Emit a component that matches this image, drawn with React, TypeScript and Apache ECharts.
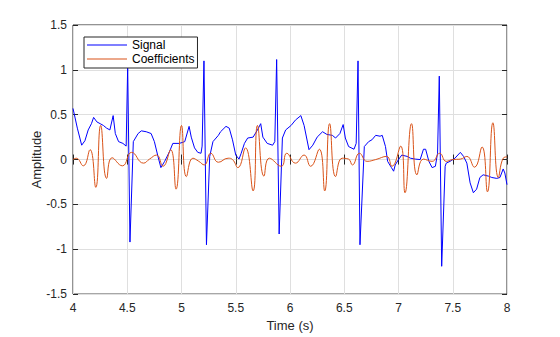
import React, { useEffect, useRef } from "react";
import * as echarts from "echarts";

const xTicks = [4, 4.5, 5, 5.5, 6, 6.5, 7, 7.5, 8];
const yTicks = [-1.5, -1, -0.5, 0, 0.5, 1, 1.5];

const signalTime = [
  4.0, 4.04, 4.08, 4.11, 4.14, 4.17, 4.19, 4.22, 4.25, 4.28, 4.31, 4.34, 4.37, 4.39, 4.42, 4.46, 4.49,
  4.504, 4.525, 4.556, 4.6, 4.63, 4.675, 4.72, 4.75, 4.78, 4.81, 4.845, 4.89, 4.92, 4.98, 5.03, 5.07,
  5.09, 5.12, 5.15, 5.18, 5.19, 5.207, 5.23, 5.26, 5.29, 5.34, 5.36, 5.41, 5.44, 5.47, 5.5, 5.53, 5.55,
  5.58, 5.61, 5.66, 5.7, 5.73, 5.75, 5.79, 5.84, 5.86, 5.877, 5.9, 5.93, 5.96, 6.01, 6.05, 6.1, 6.13,
  6.175, 6.21, 6.25, 6.3, 6.34, 6.39, 6.42, 6.46, 6.49, 6.51, 6.54, 6.59, 6.61, 6.627, 6.645, 6.685,
  6.725, 6.755, 6.79, 6.83, 6.85, 6.88, 6.9, 6.935, 6.955, 6.97, 7.0, 7.03, 7.08, 7.11, 7.155, 7.2,
  7.23, 7.25, 7.28, 7.31, 7.34, 7.36, 7.376, 7.398, 7.43, 7.44, 7.475, 7.52, 7.57, 7.6, 7.63, 7.66,
  7.69, 7.72, 7.75, 7.78, 7.83, 7.86, 7.905, 7.935, 7.965, 7.98, 8.0,
];
const signalValue = [
  0.57, 0.35, 0.16, 0.21, 0.33, 0.4, 0.47, 0.42, 0.4, 0.38, 0.35, 0.33, 0.49, 0.29, 0.2, 0.18, 0.15,
  1.04, -0.92, 0.2, 0.29, 0.32, 0.31, 0.29, 0.2, 0.05, -0.09, -0.02, 0.09, 0.18, 0.18, 0.2, 0.37,
  0.25, 0.13, 0.08, 0.07, 0.15, 1.1, -0.95, 0.035, 0.2, 0.27, 0.31, 0.37, 0.35, 0.22, 0.05, 0.005, 0.07,
  0.18, 0.24, 0.25, 0.33, 0.4, 0.25, 0.18, 0.16, 0.2, 1.115, -0.83, 0.24, 0.33, 0.38, 0.44, 0.49, 0.38,
  0.11, 0.16, 0.25, 0.31, 0.28, 0.27, 0.24, 0.29, 0.39, 0.24, 0.145, 0.115, 0.18, 1.1, -0.95, 0.145,
  0.2, 0.22, 0.27, 0.26, 0.27, 0.145, -0.02, -0.09, -0.13, -0.06, 0.0, 0.05, 0.035, 0.015, 0.005, 0.0,
  0.115, 0.115, -0.02, -0.09, -0.075, 0.07, 0.93, -1.19, -0.075, -0.04, -0.02, 0.015, 0.08, 0.035, -0.04, -0.26,
  -0.37, -0.33, -0.2, -0.17, -0.185, -0.2, -0.21, -0.2, -0.105, -0.15, -0.28,
];

const coefTime = [
  4.0, 4.03, 4.095, 4.157, 4.21, 4.255, 4.31, 4.36, 4.455, 4.54, 4.65, 4.705, 4.77, 4.83, 4.9, 4.95,
  5.0, 5.045, 5.105, 5.16, 5.21, 5.27, 5.34, 5.43, 5.47, 5.52, 5.59, 5.66, 5.7, 5.76, 5.81, 5.92, 5.97,
  6.05, 6.13, 6.19, 6.27, 6.32, 6.365, 6.42, 6.48, 6.54, 6.575, 6.64, 6.71, 6.79, 6.89, 6.94, 7.02,
  7.06, 7.12, 7.17, 7.23, 7.31, 7.38, 7.44, 7.5, 7.57, 7.63, 7.7, 7.77, 7.82, 7.87, 7.92, 7.965, 8.0,
];
const coefValue = [
  0.0, 0.015, -0.07, 0.11, -0.31, 0.38, -0.21, 0.02, -0.07, 0.08, -0.04, 0.005, 0.05, -0.075, 0.11, -0.33,
  0.38, -0.19, 0.015, -0.02, -0.06, 0.07, -0.03, 0.015, 0.0, -0.09, 0.13, -0.35, 0.38, -0.185, 0.015, -0.075, 0.07,
  -0.04, 0.05, -0.075, 0.115, -0.35, 0.4, -0.19, 0.015, 0.005, -0.06, 0.07, -0.02, 0.0, 0.035, -0.075, 0.15,
  -0.37, 0.4, -0.17, 0.005, -0.02, 0.07, -0.02, 0.0, 0.005, 0.035, -0.085, 0.14, -0.36, 0.41, -0.2, 0.015, 0.03,
];

const seriesNames = ["Signal", "Coefficients"];

const axisColor = "#262626";
const font = "'Liberation Sans', Arial, Helvetica, sans-serif";

export default function App() {
  const ref = useRef<HTMLDivElement>(null);
  useEffect(() => {
    if (!ref.current) return;
    const chart = echarts.init(ref.current, undefined, { renderer: "svg" });
    const fmt = (v: number) => String(v);
    const baseX = {
      type: "value" as const,
      min: xTicks[0],
      max: xTicks[xTicks.length - 1],
      interval: 0.5,
    };
    const baseY = {
      type: "value" as const,
      min: yTicks[0],
      max: yTicks[yTicks.length - 1],
      interval: 0.5,
    };
    chart.setOption({
      animation: false,
      backgroundColor: "#ffffff",
      textStyle: { fontFamily: font },
      grid: {
        left: 73,
        right: 53,
        top: 25,
        bottom: 39,
        containLabel: false,
        show: true,
        borderColor: axisColor,
        borderWidth: 1,
        backgroundColor: "#ffffff",
      },
      legend: {
        orient: "vertical",
        left: 84,
        top: 37,
        padding: [2, 3, 3, 3],
        itemGap: 2,
        itemWidth: 40,
        itemHeight: 1,
        icon: "rect",
        backgroundColor: "#ffffff",
        borderColor: axisColor,
        borderWidth: 1,
        textStyle: {
          fontFamily: font,
          fontSize: 12,
          lineHeight: 12,
          height: 12,
          color: "#000000",
          padding: [0, 0, 0, 0],
        },
        data: seriesNames,
      },
      xAxis: [
        {
          ...baseX,
          position: "bottom",
          name: "Time (s)",
          nameLocation: "middle",
          nameGap: 21,
          nameTextStyle: { fontFamily: font, fontSize: 13, color: axisColor },
          axisLine: { show: false },
          axisTick: { show: true, inside: true, length: 5, lineStyle: { color: axisColor } },
          axisLabel: { show: true, formatter: fmt, fontSize: 12, color: axisColor, margin: 8, fontFamily: font },
          splitLine: { show: true, lineStyle: { color: "#dfdfdf", width: 1 } },
        },
        {
          ...baseX,
          position: "top",
          axisLine: { show: false },
          axisTick: { show: true, inside: true, length: 5, lineStyle: { color: axisColor } },
          axisLabel: { show: false },
          splitLine: { show: false },
        },
      ],
      yAxis: [
        {
          ...baseY,
          position: "left",
          name: "Amplitude",
          nameLocation: "middle",
          nameGap: 30,
          nameMoveOverlap: false,
          nameRotate: 90,
          nameTextStyle: { fontFamily: font, fontSize: 13, color: axisColor },
          axisLine: { show: false },
          axisTick: { show: true, inside: true, length: 5, lineStyle: { color: axisColor } },
          axisLabel: { show: true, formatter: fmt, fontSize: 12, color: axisColor, margin: 6, fontFamily: font },
          splitLine: { show: true, lineStyle: { color: "#dfdfdf", width: 1 } },
        },
        {
          ...baseY,
          position: "right",
          axisLine: { show: false },
          axisTick: { show: true, inside: true, length: 5, lineStyle: { color: axisColor } },
          axisLabel: { show: false },
          splitLine: { show: false },
        },
      ],
      series: [
        {
          name: seriesNames[0],
          type: "line",
          xAxisIndex: 0,
          yAxisIndex: 0,
          showSymbol: false,
          symbol: "none",
          color: "#0000ff",
          lineStyle: { color: "#0000ff", width: 1 },
          data: signalTime.map((t, i) => [t, signalValue[i]]),
          z: 3,
        },
        {
          name: seriesNames[1],
          type: "line",
          xAxisIndex: 0,
          yAxisIndex: 0,
          showSymbol: false,
          symbol: "none",
          smooth: 0.5,
          color: "#D95319",
          lineStyle: { color: "#D95319", width: 1 },
          data: coefTime.map((t, i) => [t, coefValue[i]]),
          z: 4,
        },
      ],
    });
    return () => chart.dispose();
  }, []);
  return (
    <div
      ref={ref}
      style={{ position: "fixed", left: 0, top: 0, width: 560, height: 337 }}
    />
  );
}
